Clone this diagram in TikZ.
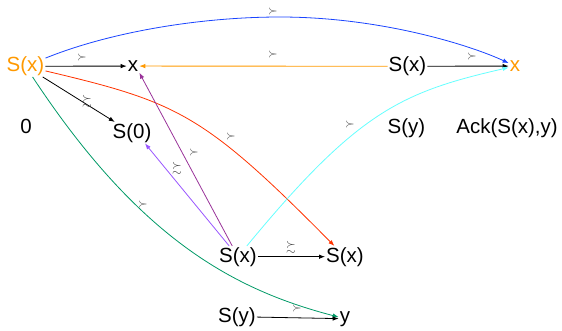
\documentclass[tikz,border=0pt]{standalone}
\usepackage{amssymb}
\usepackage{fontspec}
\setmainfont{Liberation Sans}
\usetikzlibrary{arrows.meta}
\definecolor{corange}{HTML}{FF9900}
\definecolor{cblue}{HTML}{1A44FF}
\definecolor{cred}{HTML}{FF3300}
\definecolor{ccyan}{HTML}{66FFFF}
\definecolor{cgreen}{HTML}{009966}
\definecolor{cviolet}{HTML}{9955FF}
\definecolor{cpurple}{HTML}{993399}
\definecolor{lblgray}{HTML}{404040}
\tikzset{
  term/.style={anchor=base, inner sep=1pt, font=\fontsize{20.5}{24}\selectfont},
  lbl/.style={inner sep=0pt, text=lblgray, font=\fontsize{12.5}{12.5}\selectfont},
  arr/.style={line width=0.8pt, -{Latex[length=6pt,width=4.5pt]}},
}
\begin{document}
\begin{tikzpicture}[x=1pt,y=-1pt]
\useasboundingbox (0,0) rectangle (562,330);
% nodes
\node[term, text=corange] (sxo) at (25.5,71.5) {S(x)};
\node[term] (xb) at (133,71.5) {x};
\node[term] (zero) at (26,133) {0};
\node[term] (s0) at (132,138) {S(0)};
\node[term] (sx2) at (407.5,71.5) {S(x)};
\node[term, text=corange] (xo) at (515,71.5) {x};
\node[term] (sy1) at (406.5,133) {S(y)};
\node[term] (ack) at (507,133) {Ack(S(x),y)};
\node[term] (sx3) at (238,262) {S(x)};
\node[term] (sx4) at (345,262) {S(x)};
\node[term] (sy2) at (237,322) {S(y)};
\node[term] (yy) at (345,322) {y};
% connectors
\draw[arr, black] (sxo) -- (xb);
\draw[arr, black] (sxo) -- (s0);
\draw[arr, cblue] (sxo) .. controls (110,32) and (200,17) .. (280,17)
   .. controls (380,17) and (470,45) .. (xo);
\draw[arr, corange] (sx2) -- (xb);
\draw[arr, black] (sx2) -- (xo);
\draw[arr, cred] (sxo) .. controls (177,102) and (203,113) .. (sx4);
\draw[arr, cgreen] (sxo) .. controls (140,240) and (235,290) .. (yy);
\draw[arr, ccyan] (sx3) .. controls (358,111) and (402,92) .. (xo);
\draw[arr, cviolet] (sx3) -- ([xshift=13pt]s0.south);
\draw[arr, cpurple] (sx3) -- (xb.south east);
\draw[arr, black] (sx3) -- (sx4);
\draw[arr, black] (sy2) -- (yy);
% labels
\node[lbl] (l1) at (82,57) {$\succ$};
\node[lbl] (l2) at (87,101) {$\succsim$};
\node[lbl] (l3) at (273,11.5) {$\succ$};
\node[lbl] (l4) at (273,54.5) {$\succ$};
\node[lbl] (l5) at (472,56.5) {$\succ$};
\node[lbl] (l6) at (231,136) {$\succ$};
\node[lbl] (l7) at (350,124) {$\succ$};
\node[lbl] (l8) at (143,204) {$\succ$};
\node[lbl] (l9) at (177,168.5) {$\succsim$};
\node[lbl] (l10) at (194,152) {$\succ$};
\node[lbl] (l11) at (291,247) {$\succsim$};
\node[lbl] (l12) at (297,308) {$\succ$};
\end{tikzpicture}
\end{document}
